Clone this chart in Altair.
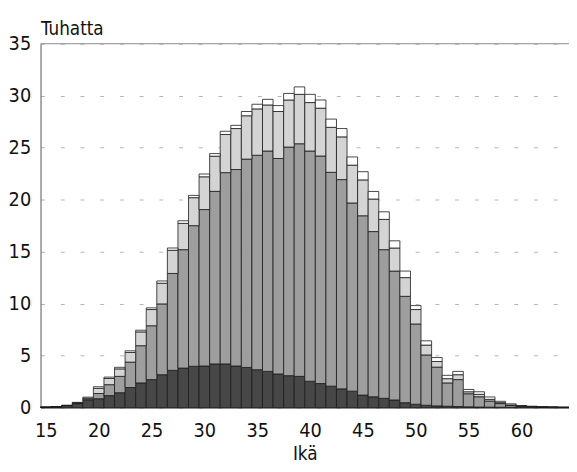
import altair as alt
import pandas as pd

ages = list(range(15, 65))

# thousands, per age, one list per layer (bottom to top)
dark = [0.03, 0.08, 0.18, 0.38, 0.70, 0.85, 1.15, 1.43, 1.93, 2.37,
        2.69, 3.16, 3.58, 3.80, 3.97, 4.00, 4.20, 4.20, 4.00, 3.86,
        3.64, 3.48, 3.23, 3.07, 3.00, 2.53, 2.31, 2.06, 1.80, 1.58,
        1.20, 1.04, 0.89, 0.73, 0.47, 0.32, 0.22, 0.16, 0.13, 0.10,
        0.07, 0.05, 0.04, 0.03, 0.02, 0.02, 0.01, 0.01, 0.00, 0.00]
mid = [0.00, 0.00, 0.02, 0.04, 0.10, 0.50, 1.05, 1.57, 2.44, 3.58,
       5.18, 6.81, 9.32, 11.39, 13.53, 15.05, 16.60, 18.40, 18.90, 20.04,
       20.63, 21.20, 20.73, 21.99, 22.38, 22.15, 21.89, 20.57, 20.13, 18.10,
       17.25, 15.89, 14.30, 12.40, 10.23, 7.72, 4.84, 3.73, 2.24, 2.59,
       1.26, 0.99, 0.59, 0.35, 0.17, 0.10, 0.07, 0.04, 0.03, 0.02]
light = [0.00, 0.00, 0.00, 0.03, 0.10, 0.50, 0.60, 0.72, 0.93, 1.33,
         1.56, 1.99, 2.23, 2.53, 2.69, 3.15, 3.38, 3.67, 3.94, 4.17,
         4.46, 4.43, 4.52, 4.53, 4.75, 4.66, 4.60, 4.33, 4.11, 3.64,
         3.45, 3.13, 2.91, 2.22, 1.80, 1.39, 0.95, 0.54, 0.41, 0.47,
         0.19, 0.23, 0.16, 0.09, 0.06, 0.03, 0.02, 0.01, 0.01, 0.00]
cap = [0.00, 0.02, 0.02, 0.05, 0.10, 0.15, 0.13, 0.15, 0.16, 0.16,
       0.16, 0.22, 0.22, 0.25, 0.22, 0.27, 0.25, 0.31, 0.31, 0.41,
       0.45, 0.54, 0.57, 0.63, 0.72, 0.79, 0.79, 0.79, 0.80, 0.79,
       0.79, 0.73, 0.73, 0.69, 0.63, 0.38, 0.41, 0.38, 0.32, 0.32,
       0.22, 0.25, 0.23, 0.13, 0.11, 0.05, 0.03, 0.02, 0.01, 0.01]

layers = ["a", "b", "c", "d"]
layer_colors = ["#474747", "#9e9e9e", "#d4d4d4", "#ffffff"]
series = [dark, mid, light, cap]

y_ticks = [0, 5, 10, 15, 20, 25, 30, 35]
x_ticks = [15, 20, 25, 30, 35, 40, 45, 50, 55, 60]

rows = []
for k, (name, vals) in enumerate(zip(layers, series)):
    for a, v in zip(ages, vals):
        rows.append({"age": a, "layer": name, "ord": k, "value": v})
df = pd.DataFrame(rows)

FONT = "DejaVu Sans Condensed, Liberation Sans, sans-serif"

bars = alt.Chart(df).transform_stack(
    stack="value", as_=["y0", "y1"], groupby=["age"],
    sort=[alt.SortField("ord", order="ascending")]
).transform_calculate(
    lo="datum.age - 0.5", hi="datum.age + 0.5"
).mark_bar(stroke="#1a1a1a", strokeWidth=0.8).encode(
    x=alt.X("lo:Q", scale=alt.Scale(domain=[14.5, 64.5], nice=False, zero=False),
            axis=alt.Axis(values=x_ticks, title="Ikä", grid=False, ticks=False,
                          labelFontSize=20, labelPadding=13, labelColor="#111",
                          labelFont=FONT, domainColor="#333", domainWidth=1,
                          titleFont=FONT, titleFontSize=19, titleFontWeight="normal",
                          titleColor="#111", titleBaseline="alphabetic",
                          titleY=53, titleAnchor="middle")),
    x2="hi:Q",
    y=alt.Y("y0:Q", scale=alt.Scale(domain=[0, 35], nice=False),
            axis=alt.Axis(values=y_ticks, title="Tuhatta", ticks=False,
                          labelFontSize=20, labelPadding=10, labelColor="#111",
                          labelFont=FONT, domainColor="#555", domainWidth=1,
                          grid=True, gridDash=[4, 16], gridColor="#b5b5b5", gridWidth=1,
                          titleFont=FONT, titleFontSize=19, titleFontWeight="normal",
                          titleColor="#111", titleAngle=0, titleAlign="left",
                          titleBaseline="alphabetic", titleX=0, titleY=-9)),
    y2="y1:Q",
    color=alt.Color("layer:N", scale=alt.Scale(domain=layers, range=layer_colors), legend=None),
)

top_line = alt.Chart(pd.DataFrame({"v": [35]})).mark_rule(color="#8a8a8a", strokeWidth=1).encode(
    y=alt.Y("v:Q")
)

chart = alt.layer(bars, top_line).properties(
    width=536, height=369,
    autosize=alt.AutoSizeParams(type="none"),
    padding={"left": 33, "top": 33, "right": 0, "bottom": 54},
).configure_view(stroke=None)

chart.save("out.html", embed_options={"renderer": "svg", "actions": False})
